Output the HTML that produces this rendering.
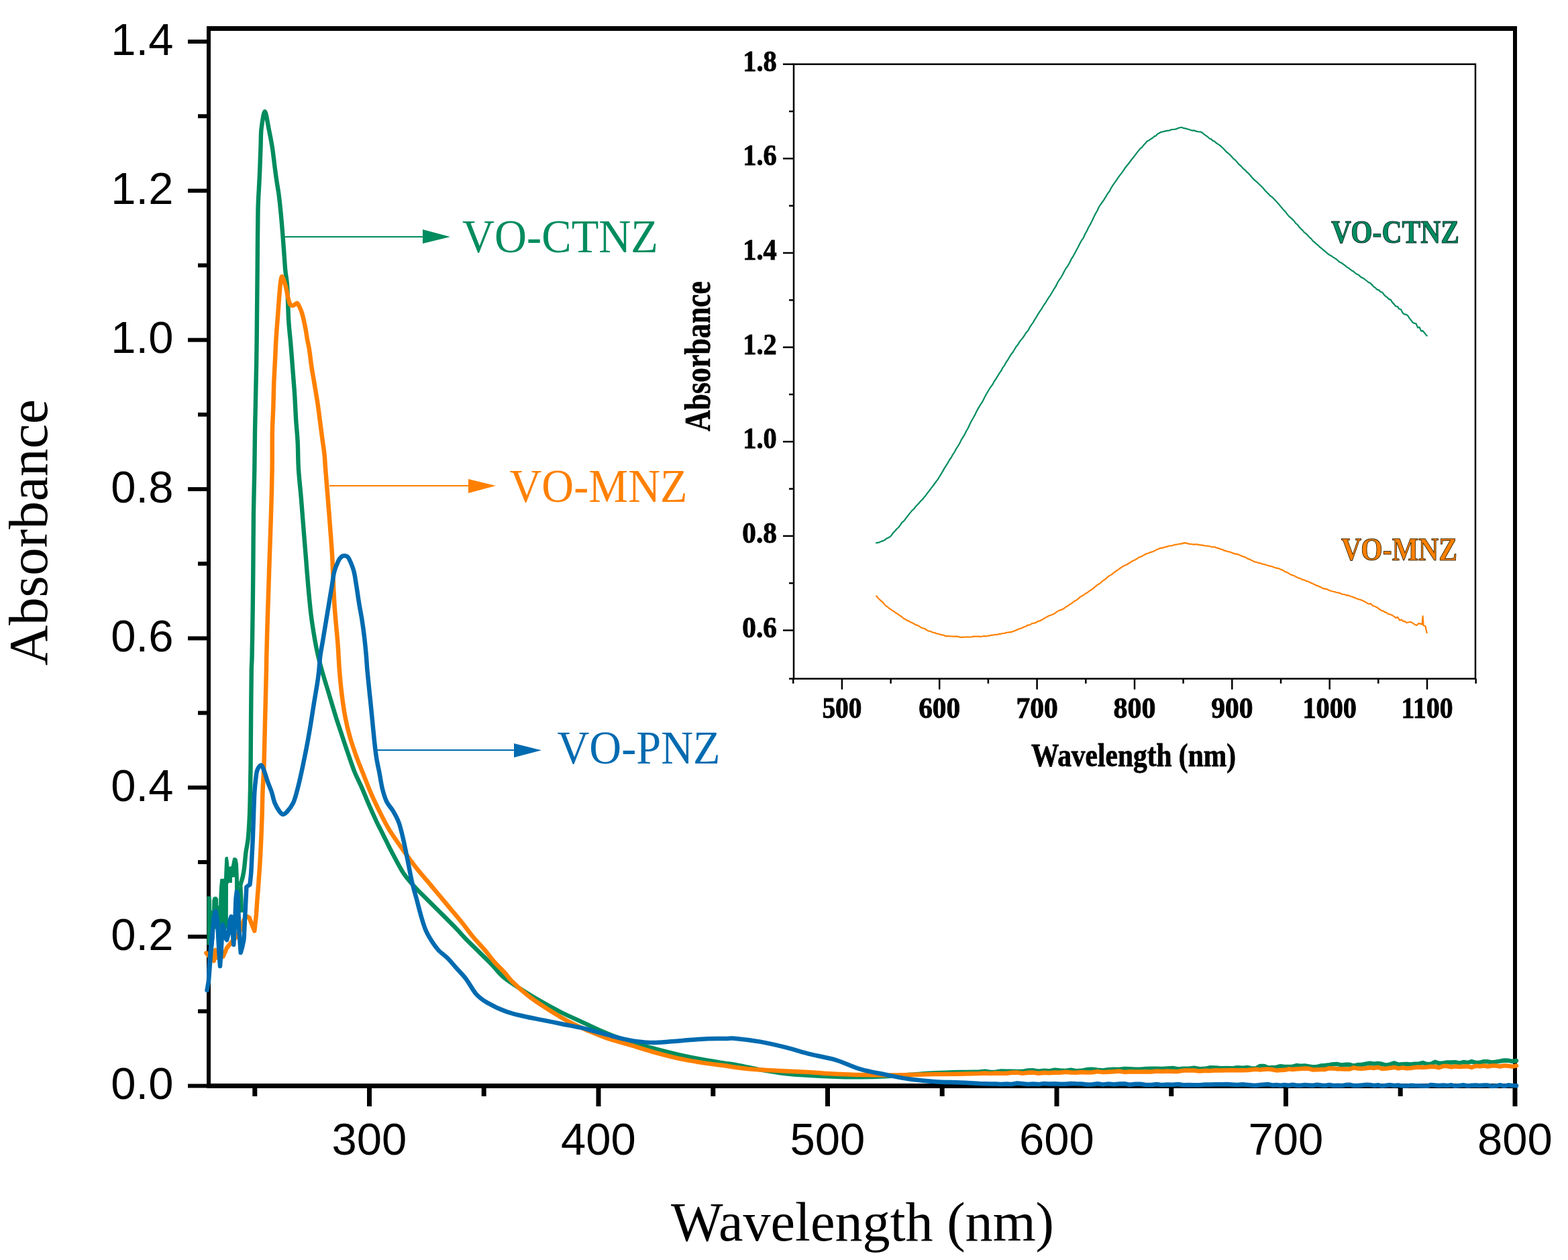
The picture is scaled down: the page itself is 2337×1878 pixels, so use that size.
<!DOCTYPE html>
<html><head><meta charset="utf-8"><title>Absorbance spectra</title>
<style>
html,body{margin:0;padding:0;background:#fff;overflow:hidden;}
svg{display:block;}
.tl{font-family:"Liberation Sans",Arial,sans-serif;font-size:67px;fill:#000;}
.tt{font-family:"Liberation Serif","Times New Roman",serif;font-size:82px;fill:#000;}
.lg{font-family:"Liberation Serif","Times New Roman",serif;font-size:70px;}
.il{font-family:"Liberation Serif","Times New Roman",serif;font-size:44px;font-weight:bold;fill:#000;stroke:#000;stroke-width:0.9px;}
.it{font-family:"Liberation Serif","Times New Roman",serif;font-size:48px;font-weight:bold;fill:#000;stroke:#000;stroke-width:0.8px;}
.ia{font-family:"Liberation Serif","Times New Roman",serif;font-size:54px;font-weight:bold;fill:#000;stroke:#000;stroke-width:0.6px;}
.ilg{font-family:"Liberation Serif","Times New Roman",serif;font-size:48px;font-weight:bold;stroke-width:1px;}
</style></head>
<body>
<svg width="2337" height="1878" viewBox="0 0 2337 1878">
<rect width="2337" height="1878" fill="#fff"/>
<rect x="308" y="39" width="1953" height="7" fill="#000"/>
<rect x="308" y="1615" width="1953" height="7" fill="#000"/>
<rect x="308" y="39" width="6" height="1583" fill="#000"/>
<rect x="2255" y="39" width="6" height="1583" fill="#000"/>
<line x1="280" y1="1618.5" x2="311" y2="1618.5" stroke="#000" stroke-width="6"/>
<line x1="295" y1="1507.3" x2="311" y2="1507.3" stroke="#000" stroke-width="6"/>
<line x1="280" y1="1396.1" x2="311" y2="1396.1" stroke="#000" stroke-width="6"/>
<line x1="295" y1="1285" x2="311" y2="1285" stroke="#000" stroke-width="6"/>
<line x1="280" y1="1173.8" x2="311" y2="1173.8" stroke="#000" stroke-width="6"/>
<line x1="295" y1="1062.6" x2="311" y2="1062.6" stroke="#000" stroke-width="6"/>
<line x1="280" y1="951.4" x2="311" y2="951.4" stroke="#000" stroke-width="6"/>
<line x1="295" y1="840.2" x2="311" y2="840.2" stroke="#000" stroke-width="6"/>
<line x1="280" y1="729.1" x2="311" y2="729.1" stroke="#000" stroke-width="6"/>
<line x1="295" y1="617.9" x2="311" y2="617.9" stroke="#000" stroke-width="6"/>
<line x1="280" y1="506.7" x2="311" y2="506.7" stroke="#000" stroke-width="6"/>
<line x1="295" y1="395.5" x2="311" y2="395.5" stroke="#000" stroke-width="6"/>
<line x1="280" y1="284.3" x2="311" y2="284.3" stroke="#000" stroke-width="6"/>
<line x1="295" y1="173.2" x2="311" y2="173.2" stroke="#000" stroke-width="6"/>
<line x1="280" y1="62" x2="311" y2="62" stroke="#000" stroke-width="6"/>
<line x1="379.8" y1="1620" x2="379.8" y2="1634" stroke="#000" stroke-width="7"/>
<line x1="550.5" y1="1620" x2="550.5" y2="1649" stroke="#000" stroke-width="7"/>
<line x1="721.2" y1="1620" x2="721.2" y2="1634" stroke="#000" stroke-width="7"/>
<line x1="892" y1="1620" x2="892" y2="1649" stroke="#000" stroke-width="7"/>
<line x1="1062.8" y1="1620" x2="1062.8" y2="1634" stroke="#000" stroke-width="7"/>
<line x1="1233.5" y1="1620" x2="1233.5" y2="1649" stroke="#000" stroke-width="7"/>
<line x1="1404.2" y1="1620" x2="1404.2" y2="1634" stroke="#000" stroke-width="7"/>
<line x1="1575" y1="1620" x2="1575" y2="1649" stroke="#000" stroke-width="7"/>
<line x1="1745.8" y1="1620" x2="1745.8" y2="1634" stroke="#000" stroke-width="7"/>
<line x1="1916.5" y1="1620" x2="1916.5" y2="1649" stroke="#000" stroke-width="7"/>
<line x1="2087.2" y1="1620" x2="2087.2" y2="1634" stroke="#000" stroke-width="7"/>
<line x1="2258" y1="1620" x2="2258" y2="1649" stroke="#000" stroke-width="7"/>
<polygon points="308.5,1336 314.6,1336 315,1342 315.3,1357 316.1,1357 316.3,1342 317.5,1338 319.5,1336.5 322.5,1336.5 324.5,1338.5 325.1,1340 325.3,1350 326.1,1350 326.3,1339 327,1323 328.3,1310 334,1309.5 334.3,1300 335.2,1280 336.5,1277 339.5,1277 340.8,1284 341.5,1292 344.8,1291 346.5,1282 347.5,1278.5 350.5,1278 353.5,1280 355,1288 356.3,1320 357.5,1322 359.5,1312 361,1312 362.5,1340 363,1360 350,1360 350,1307.4 346,1307.4 346,1315.7 341,1315.7 340,1318 339.8,1384.5 316.2,1384.5 315.5,1408.5 308.5,1408.5" fill="#008c5e"/>
<path d="M358.5 1318 C359.1 1316 361.1 1310.2 362 1306 C362.9 1301.8 363.5 1298.4 364.2 1292.6 C364.9 1286.8 365.5 1278.1 366.4 1270.9 C367.3 1263.7 368.9 1258.7 369.8 1249.3 C370.7 1239.9 371.5 1226.1 372 1214.6 C372.5 1203 372.6 1192.7 372.9 1180 C373.2 1167.3 373.4 1157 373.6 1138.5 C373.8 1120 373.9 1092.3 374.1 1069.2 C374.3 1046.1 374.6 1015.4 374.8 1000 C375.1 984.6 375.3 992.4 375.6 977 C375.9 961.6 376.4 930.8 376.7 907.7 C377 884.6 377.2 861.6 377.4 838.5 C377.6 815.4 377.6 792.3 377.9 769.2 C378.2 746.1 378.9 721.1 379.3 700 C379.7 678.9 379.5 669.2 380 642.3 C380.5 615.4 381.6 572.2 382.2 538.5 C382.8 504.8 383 466 383.3 440 C383.6 414 383.6 403.4 383.8 382.3 C384 361.2 384.1 331.8 384.5 313.1 C384.9 294.4 386 281 386.5 270 C387 259 387.2 255.5 387.5 247 C387.8 238.5 388.1 228.2 388.5 219 C388.9 209.8 388.6 200.3 389.6 191.5 C390.7 182.7 393 166.3 394.8 166.3 C396.6 166.3 398.7 182.7 400.5 191.5 C402.3 200.3 404.2 209.8 405.7 219 C407.2 228.2 408.2 238.5 409.3 247 C410.4 255.5 411.2 261.9 412.4 270 C413.6 278.1 414.8 282.9 416.3 295.8 C417.8 308.8 419.8 330.3 421.2 347.7 C422.6 365.1 423.9 386.9 425 400 C426.1 413.1 427.2 413 428.1 426 C429 439 429.3 463.5 430.2 477.9 C431.1 492.3 432.2 499.5 433.3 512.5 C434.4 525.5 435.7 542.8 436.7 555.8 C437.7 568.8 438.6 578.9 439.3 590.4 C440 601.9 440.4 613.5 441.1 625 C441.8 636.5 443.1 647.2 443.7 659.7 C444.3 672.2 444.1 686.1 445 700 C445.9 713.9 447.7 728.9 448.9 743.3 C450.1 757.7 451.1 772.2 452.3 786.6 C453.5 801 454.6 815.4 455.8 829.8 C457 844.2 458 858.7 459.3 873.1 C460.6 887.5 462 903.4 463.6 916.4 C465.2 929.4 467.1 940.9 468.8 951 C470.5 961.1 472.1 968.8 474 977 C475.9 985.2 477.3 990.4 480 1000 C482.7 1009.6 486.9 1023.1 490.4 1034.6 C493.9 1046.1 497.6 1059.1 500.8 1069.2 C504 1079.3 506.5 1086.5 509.4 1095.2 C512.3 1103.9 514.9 1112 518.1 1121.2 C521.3 1130.4 525 1141.9 528.5 1150.6 C532 1159.2 535.4 1165.1 538.9 1173.1 C542.4 1181.1 545.9 1190.1 549.6 1198.8 C553.4 1207.5 558.5 1218.7 561.4 1225 C564.3 1231.3 564.7 1231.4 567.3 1236.6 C569.9 1241.8 574.1 1250.4 577 1256.2 C579.9 1262 580.5 1263.5 584.6 1271.2 C588.8 1278.9 596.1 1293.7 601.9 1302.3 C607.7 1310.9 613.4 1316.8 619.2 1323.1 C625 1329.4 630.7 1334.6 636.5 1340.4 C642.3 1346.2 646.7 1350.5 653.9 1357.7 C661.1 1364.9 673 1376.7 679.8 1383.7 C686.6 1390.8 690.3 1395.3 694.8 1400 C699.3 1404.7 700.8 1405.9 707 1412 C713.2 1418.1 725.8 1430.2 731.9 1436.5 C738 1442.8 740.2 1446.2 743.9 1450 C747.6 1453.8 747.9 1454.8 754.2 1459.4 C760.6 1464.1 772.7 1472 782 1477.9 C791.3 1483.8 800.6 1489.3 809.9 1494.6 C819.2 1499.9 828.4 1504.9 837.7 1509.5 C847 1514.1 856.2 1518.1 865.5 1522.4 C874.8 1526.7 884.1 1531.4 893.4 1535.4 C902.7 1539.4 911.9 1543.2 921.2 1546.6 C930.5 1550 939.7 1553 949 1555.8 C958.3 1558.6 966 1560.5 976.8 1563.3 C987.6 1566.1 1001.6 1569.7 1014 1572.5 C1026.4 1575.3 1040.1 1578 1051.1 1580 C1062.1 1582 1072.3 1583.4 1080 1584.6 C1087.7 1585.8 1088.1 1585.5 1097.1 1587.2 C1106.1 1588.9 1121.8 1592.4 1134.2 1594.6 C1146.6 1596.8 1158.9 1598.8 1171.3 1600.2 C1183.7 1601.6 1196 1602.2 1208.4 1603 C1220.8 1603.8 1233.1 1604.4 1245.5 1604.8 C1257.9 1605.2 1270.2 1605.5 1282.6 1605.4 C1295 1605.3 1307.3 1604.9 1319.7 1604.3 C1332.1 1603.7 1344.4 1602.5 1356.8 1601.7 C1369.2 1600.9 1381.5 1599.9 1393.9 1599.3 C1406.3 1598.7 1420.1 1598.3 1431.1 1598 C1442.1 1597.7 1455.2 1597.6 1460 1597.5 L1468 1596.6 L1476 1597.9 L1484 1597.6 L1492 1596.5 L1500 1596.8 L1508 1596.6 L1516 1596.9 L1524 1597 L1532 1595.5 L1540 1595.3 L1548 1596.7 L1556 1595.8 L1564 1596.3 L1572 1594.7 L1580 1595.4 L1588 1595.9 L1596 1594.7 L1604 1596.1 L1612 1595.8 L1620 1594 L1628 1593.8 L1636 1594.7 L1644 1595.4 L1652 1594.1 L1660 1593.7 L1668 1594 L1676 1593 L1684 1593.3 L1692 1593.6 L1700 1593.6 L1708 1592.9 L1716 1592.8 L1724 1592.6 L1732 1593 L1740 1592.5 L1748 1591.9 L1756 1593.4 L1764 1592.7 L1772 1592.7 L1780 1591.7 L1788 1593.2 L1796 1592.8 L1804 1591.2 L1812 1591.4 L1820 1592.1 L1828 1591.9 L1836 1592.3 L1844 1591.1 L1852 1591.8 L1860 1591 L1866.1 1592.5 L1872.1 1592.3 L1878.2 1588.9 L1884.2 1588.9 L1890.3 1591.5 L1896.4 1590.9 L1902.4 1590.6 L1908.5 1589.1 L1914.5 1590 L1920.6 1589.9 L1926.7 1589.6 L1932.7 1588 L1938.8 1588.8 L1944.8 1588.5 L1950.9 1589.5 L1957 1590.4 L1963 1590 L1969.1 1588.4 L1975.2 1587.9 L1981.2 1587.1 L1987.3 1586.1 L1993.3 1586 L1999.4 1587.4 L2005.5 1586.7 L2011.5 1586.8 L2017.6 1588.5 L2023.6 1587 L2029.7 1587 L2035.8 1585.7 L2041.8 1584.7 L2047.9 1585.7 L2053.9 1584.8 L2060 1586 L2066.1 1587.6 L2072.1 1586.3 L2078.2 1584.4 L2084.2 1586.8 L2090.3 1586.3 L2096.4 1585.9 L2102.4 1586.4 L2108.5 1585.7 L2114.5 1585.7 L2120.6 1584 L2126.7 1586.1 L2132.7 1585.8 L2138.8 1582.8 L2144.8 1584.8 L2150.9 1584.5 L2157 1583.4 L2163 1583.5 L2169.1 1583.2 L2175.2 1584.7 L2181.2 1583 L2187.3 1584 L2193.3 1582.1 L2199.4 1583.9 L2205.5 1583.8 L2211.5 1582.1 L2217.6 1582.3 L2223.6 1583.4 L2229.7 1582.6 L2235.8 1581.6 L2241.8 1580.5 L2247.9 1580.7 L2253.9 1581.9 L2260 1581" fill="none" stroke="#008c5e" stroke-width="6.4" stroke-linejoin="round" stroke-linecap="round"/>
<path d="M307.5 1420.5 L312 1426 L318.7 1432 L320 1424 L321.2 1416 L322 1425 L325 1428 L332.5 1425.7 L338 1413 L344.6 1404.7 L353.5 1395 L359 1385 L361.6 1376.4 L363.5 1371 L368 1366 L371.5 1367.7 L375 1377 L379.3 1387.4 L381.9 1363.5 C382.2 1359.6 383 1346.9 383.5 1340 C384 1333.1 384.6 1327 385 1322 C385.4 1317 385.4 1316.2 385.8 1309.9 C386.2 1303.6 387 1294 387.6 1283.9 C388.2 1273.8 388.8 1260.8 389.3 1249.3 C389.8 1237.8 390.2 1226.1 390.6 1214.6 C391 1203 391 1192.7 391.5 1180 C392 1167.3 392.9 1157 393.5 1138.5 C394.1 1120 394.6 1092.3 395.2 1069.2 C395.8 1046.1 396.5 1015.4 396.9 1000 C397.2 984.6 397 989.5 397.3 977 C397.6 964.5 398.2 942.3 398.7 925 C399.2 907.7 399.8 890.4 400.4 873.1 C401 855.8 401.5 838.5 402.1 821.2 C402.7 803.9 403.3 789.4 403.9 769.2 C404.5 749 405.3 721.1 405.6 700 C405.9 678.9 405.6 657.7 405.9 642.3 C406.2 626.9 406.9 619.2 407.3 607.7 C407.7 596.2 407.8 584.6 408.2 573.1 C408.6 561.6 409.3 550 409.9 538.5 C410.5 527 410.9 515.4 411.6 503.9 C412.3 492.3 413.3 480.8 414.2 469.2 C415.1 457.6 415.9 444.1 416.8 434.6 C417.7 425.1 418.3 413.7 419.8 412.3 C421.3 410.9 424.1 421.1 425.6 426 C427.1 430.9 427.7 436.9 428.8 441.5 C429.9 446.1 431 451.2 432.3 453.5 C433.6 455.8 435.2 455.5 436.5 455.5 C437.8 455.5 438.8 454 440 453.5 C441.2 453 442.2 450.9 443.6 452.4 C445 453.9 447.1 458.9 448.5 462.3 C449.9 465.7 450.6 468.1 451.7 472.7 C452.8 477.3 454.4 484.6 455.4 490 C456.4 495.4 456.9 499.8 457.8 505 C458.7 510.2 459.9 514.2 461 521.2 C462.1 528.2 463.1 538.5 464.4 547.1 C465.7 555.8 467.4 564.4 468.8 573.1 C470.2 581.8 471.8 590.5 473.1 599.1 C474.4 607.8 475.5 616.4 476.6 625 C477.8 633.6 478.9 642.3 480 651 C481.1 659.7 482.6 668.8 483.5 677 C484.4 685.2 484.3 689 485.2 700 C486.1 711 487.5 728.9 488.7 743.3 C489.9 757.7 491 772.2 492.1 786.6 C493.2 801 494.4 815.4 495.2 829.8 C496 844.2 496.5 861.3 497 873 C497.5 884.7 497.8 890.5 498.4 900 C499 909.5 499.9 920 500.8 930 C501.7 940 502.6 948.3 503.5 960 C504.4 971.7 505 987.6 506 1000 C507 1012.4 508 1023.1 509.4 1034.6 C510.8 1046.1 512.6 1058.5 514.6 1069.2 C516.6 1079.9 518.7 1088.6 521.6 1098.7 C524.5 1108.8 528.5 1120.3 532 1129.8 C535.5 1139.3 539 1147.6 542.3 1155.8 C545.5 1164 547.8 1170.3 551.5 1179 C555.2 1187.7 560 1198 564.8 1207.7 C569.6 1217.4 574.2 1227 580.4 1237.1 C586.6 1247.2 595.4 1259.4 601.9 1268.5 C608.4 1277.6 613.4 1284.5 619.2 1291.9 C625 1299.3 630.7 1305.8 636.5 1312.7 C642.3 1319.6 648.1 1326.6 653.9 1333.5 C659.7 1340.4 665.4 1347.4 671.2 1354.3 C677 1361.2 682.7 1367.8 688.5 1375 C694.3 1382.2 700.2 1390.6 706 1397.5 C711.8 1404.4 717.9 1410.5 723.1 1416.6 C728.3 1422.7 732.1 1428.4 737 1434 C741.9 1439.6 748.1 1445.2 752.5 1450 C756.9 1454.8 757 1456.9 763.5 1463.1 C770 1469.3 782 1480.1 791.3 1487.2 C800.6 1494.3 809.8 1499.9 819.1 1505.8 C828.4 1511.7 837.7 1517.5 847 1522.4 C856.3 1527.3 865.5 1531.4 874.8 1535.4 C884.1 1539.4 891.8 1542.9 902.6 1546.6 C913.4 1550.3 927.3 1554 939.7 1557.7 C952.1 1561.4 964.4 1565.4 976.8 1568.8 C989.2 1572.2 1001.6 1575.5 1014 1578.1 C1026.4 1580.7 1040.1 1582.9 1051.1 1584.6 C1062.1 1586.3 1072.3 1587.2 1080 1588.3 C1087.7 1589.3 1088.1 1589.9 1097.1 1590.9 C1106.1 1592 1121.8 1593.7 1134.2 1594.6 C1146.6 1595.5 1158.9 1595.9 1171.3 1596.5 C1183.7 1597.1 1196 1597.6 1208.4 1598.3 C1220.8 1599 1233.1 1600.1 1245.5 1600.7 C1257.9 1601.3 1270.2 1601.7 1282.6 1602 C1295 1602.3 1307.3 1602.6 1319.7 1602.6 C1332.1 1602.6 1344.4 1602.2 1356.8 1602 C1369.2 1601.8 1381.5 1601.3 1393.9 1601.1 C1406.3 1600.9 1420.1 1600.9 1431.1 1600.7 C1442.1 1600.5 1455.2 1600.1 1460 1600 L1468 1599.5 L1476 1599.9 L1484 1599.5 L1492 1599.8 L1500 1599.7 L1508 1598.7 L1516 1598.5 L1524 1599.7 L1532 1598.7 L1540 1598.6 L1548 1599.7 L1556 1598.8 L1564 1599.2 L1572 1598.6 L1580 1598.7 L1588 1597.8 L1596 1598.5 L1604 1598.8 L1612 1598.1 L1620 1598.4 L1628 1598.2 L1636 1597.1 L1644 1598.1 L1652 1597.7 L1660 1597.2 L1668 1596.6 L1676 1597.9 L1684 1597.2 L1692 1597.5 L1700 1597.6 L1708 1597.2 L1716 1597.5 L1724 1596.5 L1732 1597.1 L1740 1596.4 L1748 1597.1 L1756 1596.9 L1764 1595.6 L1772 1595.5 L1780 1595.5 L1788 1596.6 L1796 1595.7 L1804 1595.9 L1812 1595.3 L1820 1595.5 L1828 1595.2 L1836 1595.1 L1844 1595.3 L1852 1595.2 L1860 1595 L1866.1 1594.2 L1872.1 1593.8 L1878.2 1594.4 L1884.2 1593.7 L1890.3 1593.4 L1896.4 1594.2 L1902.4 1595.4 L1908.5 1595 L1914.5 1594.8 L1920.6 1593.3 L1926.7 1594 L1932.7 1593.2 L1938.8 1592.9 L1944.8 1592.6 L1950.9 1592.8 L1957 1594.5 L1963 1594.2 L1969.1 1594 L1975.2 1593.9 L1981.2 1592.2 L1987.3 1592.4 L1993.3 1593.2 L1999.4 1593.3 L2005.5 1593.6 L2011.5 1593.5 L2017.6 1591.4 L2023.6 1592.6 L2029.7 1592.7 L2035.8 1592.2 L2041.8 1591.2 L2047.9 1591.9 L2053.9 1590.8 L2060 1592.9 L2066.1 1592.6 L2072.1 1591.7 L2078.2 1590.9 L2084.2 1592.4 L2090.3 1591.4 L2096.4 1592.2 L2102.4 1592 L2108.5 1591 L2114.5 1590.6 L2120.6 1591 L2126.7 1590.5 L2132.7 1589.7 L2138.8 1590 L2144.8 1591.2 L2150.9 1589.1 L2157 1589 L2163 1590.4 L2169.1 1589.4 L2175.2 1590 L2181.2 1589.7 L2187.3 1589.3 L2193.3 1590.9 L2199.4 1588.7 L2205.5 1589.2 L2211.5 1588.5 L2217.6 1589.5 L2223.6 1588.5 L2229.7 1588.6 L2235.8 1589.5 L2241.8 1588.3 L2247.9 1588.8 L2253.9 1589.6 L2260 1588.5" fill="none" stroke="#ff8000" stroke-width="6.5" stroke-linejoin="round" stroke-linecap="round"/>
<polygon points="307.5,1477 310.5,1477 313.8,1445 317,1420 319.6,1398 319.6,1372 321,1357 318,1362 314.5,1380 312.5,1395 310.2,1420 308.2,1445" fill="#006bb0"/>
<path d="M308.5 1476 L311 1462 L313.5 1430 L316.5 1395 L318.5 1368 L321.2 1358 L324 1372 L326.5 1420 L328 1440 L329.5 1420 L331.7 1378 L334 1385 L336 1398 L338.1 1401 L340.5 1392 L342.5 1372 L344.6 1366 L346.5 1385 L348.2 1408 L350 1380 L351.5 1340 L352.8 1329 L354.5 1335 L356.5 1390 L358.8 1420 L361 1412 L363.5 1400 L365 1370 L366.5 1340 L367.4 1322 L370 1320 L372.4 1318.5 C372.7 1315.6 373.7 1308.4 374.2 1301.2 C374.7 1294 375.1 1283.9 375.5 1275.2 C375.9 1266.5 376.4 1259.4 376.8 1249.3 C377.2 1239.2 377.6 1226.1 378 1214.6 C378.4 1203 378.8 1189.2 379.4 1180 C380 1170.8 380.8 1164.5 381.4 1159.3 C382 1154.1 382.3 1151.6 383.1 1148.9 C383.9 1146.2 384.9 1144.3 386 1143 C387.1 1141.7 388.6 1139.8 390 1141.1 C391.4 1142.4 392.9 1146.7 394.3 1150.6 C395.8 1154.5 397 1159.5 398.7 1164.4 C400.4 1169.3 402.9 1174.7 404.7 1180 C406.5 1185.3 407.5 1191.7 409.4 1196.5 C411.3 1201.3 414.2 1206.1 416.3 1209 C418.4 1211.9 419.8 1213.7 421.8 1213.8 C423.8 1213.9 425.6 1212.2 428.1 1209.5 C430.6 1206.8 434.4 1201.9 436.7 1197.3 C439 1192.7 440.2 1187.8 441.9 1181.8 C443.6 1175.8 445.4 1168.5 447.1 1161 C448.8 1153.5 450.6 1145.2 452.3 1136.8 C454 1128.4 455.8 1120 457.5 1110.8 C459.2 1101.6 461 1091.8 462.7 1081.4 C464.4 1071 466.2 1059.2 467.9 1048.5 C469.6 1037.8 471.9 1025.4 473.1 1017.3 C474.3 1009.2 474.6 1006.7 475.3 1000 C476 993.3 476.3 985.2 477.4 977 C478.5 968.8 480.4 959.7 481.8 951 C483.2 942.3 484.7 933.6 486.1 925 C487.5 916.4 489 907.8 490.4 899.1 C491.8 890.5 493.4 880.9 494.7 873.1 C496 865.3 496.6 858.4 498.2 852.3 C499.8 846.1 502.5 840 504.3 836.2 C506.1 832.5 507.5 831.1 509 829.8 C510.5 828.5 512 828.2 513.5 828.2 C515 828.2 516.6 828.4 518 829.8 C519.4 831.2 520.4 833 522 836.7 C523.6 840.5 526.1 846.2 527.6 852.3 C529.1 858.4 529.9 865.1 531.2 873.1 C532.5 881.1 533.9 891.4 535.3 900 C536.7 908.6 538.4 916.5 539.7 925 C541 933.5 542.2 942.3 543.2 951 C544.2 959.7 545.1 968.8 545.8 977 C546.5 985.2 546.6 990.4 547.5 1000 C548.4 1009.6 549.8 1023.1 551 1034.6 C552.2 1046.1 553.4 1057.7 554.5 1069.2 C555.6 1080.8 556.8 1093.5 557.9 1103.9 C559 1114.3 560.1 1123.6 561.4 1131.6 C562.7 1139.6 564.1 1144.6 565.5 1152 C566.9 1159.4 568.2 1168.8 570 1176 C571.8 1183.2 573.8 1189.8 576.5 1195.3 C579.2 1200.8 583 1203.8 586 1209 C589 1214.2 592.1 1219.5 594.6 1226.5 C597.1 1233.5 598.9 1241.8 601 1250.7 C603.1 1259.6 604.9 1269.2 607.1 1279.8 C609.3 1290.4 611.7 1304.3 614 1314.4 C616.3 1324.5 618.7 1331.7 621 1340.4 C623.3 1349.1 625.6 1358.6 627.9 1366.4 C630.2 1374.2 632.2 1381 634.8 1387.1 C637.4 1393.1 640.3 1397.8 643.5 1402.7 C646.7 1407.6 649.9 1412.3 653.9 1416.6 C657.9 1420.9 663.4 1424.3 667.7 1428.7 C672.1 1433.1 675.5 1437.6 680 1442.7 C684.5 1447.8 689.8 1452.9 694.8 1459.4 C699.8 1465.9 704.4 1475.7 709.7 1481.6 C715 1487.5 719 1490.3 726.4 1494.6 C733.8 1498.9 744.9 1504.2 754.2 1507.6 C763.5 1511 772.7 1512.8 782 1515 C791.3 1517.2 800.6 1518.7 809.9 1520.6 C819.2 1522.5 828.4 1524.3 837.7 1526.2 C847 1528.1 856.2 1529.6 865.5 1531.7 C874.8 1533.8 884.1 1536.6 893.4 1539.1 C902.7 1541.6 911.9 1544.4 921.2 1546.6 C930.5 1548.8 939.7 1550.9 949 1552.1 C958.3 1553.3 966 1554.2 976.8 1554 C987.6 1553.8 1001.6 1552.1 1014 1551.2 C1026.4 1550.3 1040.1 1548.9 1051.1 1548.4 C1062.1 1547.9 1072.3 1548.2 1080 1548.1 C1087.7 1548 1088.1 1547.1 1097.1 1547.9 C1106.1 1548.7 1121.8 1550.7 1134.2 1552.9 C1146.6 1555.1 1158.9 1558.1 1171.3 1561.2 C1183.7 1564.3 1196 1568.3 1208.4 1571.4 C1220.8 1574.5 1233.1 1576.1 1245.5 1579.8 C1257.9 1583.5 1270.2 1590 1282.6 1593.7 C1295 1597.4 1307.3 1599.2 1319.7 1601.7 C1332.1 1604.2 1344.4 1606.8 1356.8 1608.5 C1369.2 1610.2 1381.5 1611.4 1393.9 1612.2 C1406.3 1613 1420.1 1613 1431.1 1613.5 C1442.1 1614 1455.2 1614.8 1460 1615 L1468 1615.2 L1476 1615.5 L1484 1615.6 L1492 1615.9 L1500 1615.6 L1508 1615.9 L1516 1614.5 L1524 1615.3 L1532 1616.1 L1540 1615.6 L1548 1616.1 L1556 1614.9 L1564 1615.5 L1572 1615.2 L1580 1615.7 L1588 1615.8 L1596 1614.9 L1604 1615.3 L1612 1615.4 L1620 1616.5 L1628 1616.3 L1636 1615.3 L1644 1616.4 L1652 1615.4 L1660 1616.2 L1668 1615.4 L1676 1615.3 L1684 1616.7 L1692 1615.7 L1700 1615.7 L1708 1617 L1716 1616.9 L1724 1616 L1732 1617.1 L1740 1616.5 L1748 1616.7 L1756 1616 L1764 1617.2 L1772 1616.9 L1780 1617.3 L1788 1617.3 L1796 1616.4 L1804 1616.5 L1812 1616.2 L1820 1616.2 L1828 1616.1 L1836 1616.6 L1844 1617.1 L1852 1616.2 L1860 1617 L1866.1 1617.6 L1872.1 1617.7 L1878.2 1617 L1884.2 1616.6 L1890.3 1616.1 L1896.4 1617.4 L1902.4 1617.1 L1908.5 1617.7 L1914.5 1616.9 L1920.6 1617.7 L1926.7 1616.8 L1932.7 1617.8 L1938.8 1617.7 L1944.8 1617.1 L1950.9 1617.4 L1957 1617.7 L1963 1616.7 L1969.1 1617.5 L1975.2 1618 L1981.2 1616.9 L1987.3 1618 L1993.3 1617.8 L1999.4 1618.1 L2005.5 1617.1 L2011.5 1616.7 L2017.6 1618.1 L2023.6 1618.1 L2029.7 1617.4 L2035.8 1616.8 L2041.8 1617 L2047.9 1617.9 L2053.9 1617.2 L2060 1618.6 L2066.1 1617.8 L2072.1 1617.1 L2078.2 1618 L2084.2 1617.4 L2090.3 1618.6 L2096.4 1618.6 L2102.4 1617.8 L2108.5 1618.1 L2114.5 1618.2 L2120.6 1618.5 L2126.7 1618.8 L2132.7 1616.9 L2138.8 1617.6 L2144.8 1618.1 L2150.9 1617.6 L2157 1618.1 L2163 1617.2 L2169.1 1618.8 L2175.2 1618.1 L2181.2 1617.3 L2187.3 1618.4 L2193.3 1617.7 L2199.4 1617.5 L2205.5 1618.1 L2211.5 1617.4 L2217.6 1617.6 L2223.6 1618.9 L2229.7 1618.6 L2235.8 1617.2 L2241.8 1618.8 L2247.9 1617.3 L2253.9 1617.9 L2260 1618.3" fill="none" stroke="#006bb0" stroke-width="6.5" stroke-linejoin="round" stroke-linecap="round"/>
<text x="258.5" y="1638.2" text-anchor="end" class="tl">0.0</text>
<text x="258.5" y="1415.8" text-anchor="end" class="tl">0.2</text>
<text x="258.5" y="1193.5" text-anchor="end" class="tl">0.4</text>
<text x="258.5" y="971.1" text-anchor="end" class="tl">0.6</text>
<text x="258.5" y="748.8" text-anchor="end" class="tl">0.8</text>
<text x="258.5" y="526.4" text-anchor="end" class="tl">1.0</text>
<text x="258.5" y="304" text-anchor="end" class="tl">1.2</text>
<text x="258.5" y="81.7" text-anchor="end" class="tl">1.4</text>
<text x="550.5" y="1721.3" text-anchor="middle" class="tl">300</text>
<text x="892" y="1721.3" text-anchor="middle" class="tl">400</text>
<text x="1233.5" y="1721.3" text-anchor="middle" class="tl">500</text>
<text x="1575" y="1721.3" text-anchor="middle" class="tl">600</text>
<text x="1916.5" y="1721.3" text-anchor="middle" class="tl">700</text>
<text x="2258" y="1721.3" text-anchor="middle" class="tl">800</text>

<rect x="423" y="352" width="208" height="2" fill="#008c5e"/>
<polygon points="630,342 671,353 630,363" fill="#008c5e"/>
<rect x="491" y="723" width="208" height="2" fill="#ff8000"/>
<polygon points="698,714 739,724 698,735" fill="#ff8000"/>
<rect x="562" y="1117" width="205" height="2" fill="#006bb0"/>
<polygon points="766,1108 807,1118.2 766,1129" fill="#006bb0"/>


<text x="689" y="376" class="lg" fill="#008c5e" textLength="292" lengthAdjust="spacingAndGlyphs">VO-CTNZ</text>
<text x="759.5" y="748.2" class="lg" fill="#ff8000" textLength="265" lengthAdjust="spacingAndGlyphs">VO-MNZ</text>
<text x="830.5" y="1137.6" class="lg" fill="#006bb0" textLength="243" lengthAdjust="spacingAndGlyphs">VO-PNZ</text>
<text x="1000" y="1849" class="tt" textLength="571" lengthAdjust="spacingAndGlyphs">Wavelength (nm)</text>
<text transform="translate(69.8,992) rotate(-90)" x="0" y="0" class="tt" textLength="397" lengthAdjust="spacingAndGlyphs">Absorbance</text>
<text x="1537" y="1142.3" class="it" textLength="305" lengthAdjust="spacingAndGlyphs">Wavelength (nm)</text>
<text transform="translate(1058,643) rotate(-90)" x="0" y="0" class="ia" textLength="224" lengthAdjust="spacingAndGlyphs">Absorbance</text>
<text x="1984" y="361.8" class="ilg" fill="#008c5e" stroke="#0a2a2a" textLength="191" lengthAdjust="spacingAndGlyphs">VO-CTNZ</text>
<text x="1999" y="835.1" class="ilg" fill="#ff8000" stroke="#3a2a00" textLength="173" lengthAdjust="spacingAndGlyphs">VO-MNZ</text>

<rect x="1183" y="95.7" width="1016" height="915.9" fill="none" stroke="#000" stroke-width="2.5"/>
<line x1="1176" y1="1011.6" x2="1183" y2="1011.6" stroke="#000" stroke-width="2.5"/>
<line x1="1167" y1="939.5" x2="1183" y2="939.5" stroke="#000" stroke-width="2.5"/>
<line x1="1176" y1="869.2" x2="1183" y2="869.2" stroke="#000" stroke-width="2.5"/>
<line x1="1167" y1="798.9" x2="1183" y2="798.9" stroke="#000" stroke-width="2.5"/>
<line x1="1176" y1="728.6" x2="1183" y2="728.6" stroke="#000" stroke-width="2.5"/>
<line x1="1167" y1="658.3" x2="1183" y2="658.3" stroke="#000" stroke-width="2.5"/>
<line x1="1176" y1="587.9" x2="1183" y2="587.9" stroke="#000" stroke-width="2.5"/>
<line x1="1167" y1="517.6" x2="1183" y2="517.6" stroke="#000" stroke-width="2.5"/>
<line x1="1176" y1="447.3" x2="1183" y2="447.3" stroke="#000" stroke-width="2.5"/>
<line x1="1167" y1="377" x2="1183" y2="377" stroke="#000" stroke-width="2.5"/>
<line x1="1176" y1="306.7" x2="1183" y2="306.7" stroke="#000" stroke-width="2.5"/>
<line x1="1167" y1="236.3" x2="1183" y2="236.3" stroke="#000" stroke-width="2.5"/>
<line x1="1176" y1="166" x2="1183" y2="166" stroke="#000" stroke-width="2.5"/>
<line x1="1167" y1="95.7" x2="1183" y2="95.7" stroke="#000" stroke-width="2.5"/>
<line x1="1182.2" y1="1011.5" x2="1182.2" y2="1018.8" stroke="#000" stroke-width="2.5"/>
<line x1="1254.9" y1="1011.5" x2="1254.9" y2="1027.6" stroke="#000" stroke-width="2.5"/>
<line x1="1327.6" y1="1011.5" x2="1327.6" y2="1018.8" stroke="#000" stroke-width="2.5"/>
<line x1="1400.2" y1="1011.5" x2="1400.2" y2="1027.6" stroke="#000" stroke-width="2.5"/>
<line x1="1472.9" y1="1011.5" x2="1472.9" y2="1018.8" stroke="#000" stroke-width="2.5"/>
<line x1="1545.6" y1="1011.5" x2="1545.6" y2="1027.6" stroke="#000" stroke-width="2.5"/>
<line x1="1618.3" y1="1011.5" x2="1618.3" y2="1018.8" stroke="#000" stroke-width="2.5"/>
<line x1="1691" y1="1011.5" x2="1691" y2="1027.6" stroke="#000" stroke-width="2.5"/>
<line x1="1763.6" y1="1011.5" x2="1763.6" y2="1018.8" stroke="#000" stroke-width="2.5"/>
<line x1="1836.3" y1="1011.5" x2="1836.3" y2="1027.6" stroke="#000" stroke-width="2.5"/>
<line x1="1909" y1="1011.5" x2="1909" y2="1018.8" stroke="#000" stroke-width="2.5"/>
<line x1="1981.7" y1="1011.5" x2="1981.7" y2="1027.6" stroke="#000" stroke-width="2.5"/>
<line x1="2054.3" y1="1011.5" x2="2054.3" y2="1018.8" stroke="#000" stroke-width="2.5"/>
<line x1="2127" y1="1011.5" x2="2127" y2="1027.6" stroke="#000" stroke-width="2.5"/>
<line x1="2199.7" y1="1011.5" x2="2199.7" y2="1018.8" stroke="#000" stroke-width="2.5"/>
<path d="M1305.1 809.5 L1307.9 808.8 L1310.7 808.4 L1313.5 806.9 L1316.3 806.1 L1318.8 804.7 L1321.3 802.7 L1323.8 801.6 L1326.3 800.3 L1328.8 797.7 L1331.3 794.1 L1333.9 791.5 L1336.4 788.5 L1339 786.2 L1341.6 782.9 L1344.2 778.9 L1346.8 776.9 L1349.4 773.7 L1352 770.2 L1354.6 766.9 L1357.1 763.6 L1359.6 760.6 L1362.2 758.5 L1364.7 755.1 L1367.2 752.5 L1369.8 749.8 L1372.3 746.7 L1374.8 744.5 L1377.3 741.2 L1379.8 738.4 L1382.4 734.7 L1384.9 731.6 L1387.4 728.1 L1390 725 L1392.5 721.5 L1395 718 L1397.5 714.9 L1400 710.8 L1402.6 706.6 L1405.1 702.4 L1407.6 697.9 L1410.2 693.8 L1412.7 689.8 L1415.2 685.5 L1417.7 682 L1420.2 677.3 L1422.8 673.5 L1425.3 668.7 L1427.8 665 L1430.4 660.6 L1432.9 655.3 L1435.4 651.3 L1437.9 647.3 L1440.5 642 L1443 637.8 L1445.5 632.3 L1448 627.2 L1450.5 623 L1453.1 618.4 L1455.6 613 L1458.3 608.1 L1461 603.7 L1463.7 599.7 L1466.3 594.7 L1469 589.3 L1471.7 584.7 L1474.2 580.5 L1476.8 576.4 L1479.3 573.2 L1481.8 568.5 L1484.3 564.9 L1486.9 560.7 L1489.4 556.4 L1491.9 553 L1494.4 548.2 L1497 544.8 L1499.5 540.1 L1502 536.5 L1504.5 532.2 L1507 528.2 L1509.6 525 L1512.1 520.8 L1514.6 516.6 L1517.1 513.8 L1519.7 509.4 L1522.2 506.1 L1524.7 503.1 L1527.2 499.3 L1529.8 495.2 L1532.3 492.7 L1534.9 487.7 L1537.4 483.8 L1540 480.4 L1542.5 475.8 L1545.1 471.8 L1547.7 467.4 L1550.3 463.3 L1552.8 459.8 L1555.4 455.3 L1558 451.7 L1560.6 447.3 L1563.1 443.3 L1565.7 439.8 L1568.3 435.2 L1570.9 430.9 L1573.5 426.9 L1576 421.7 L1578.6 417.3 L1581.2 413.8 L1583.8 409.3 L1586.3 404.3 L1588.9 399.8 L1591.5 396.1 L1594.1 391.7 L1596.7 386.2 L1599.2 382.4 L1601.8 377.7 L1604.4 372.8 L1607 367.9 L1609.5 362.9 L1612.1 358.2 L1614.7 354.7 L1617.3 348.8 L1619.9 344.3 L1622.4 338.8 L1625 334.4 L1627.6 329.2 L1630.2 323.8 L1632.7 318.6 L1635.3 314.3 L1637.9 308.5 L1640.5 304.7 L1643.1 301 L1645.6 297.4 L1648.2 293.1 L1650.8 288.7 L1653.4 285.4 L1655.9 280.6 L1658.5 276.3 L1661.1 272.6 L1663.7 269.2 L1666.2 265.2 L1668.8 261.7 L1671.4 258.3 L1673.9 254.9 L1676.5 250.8 L1679.1 247.5 L1681.6 244.5 L1684.2 241 L1686.8 237.5 L1689.4 234.5 L1691.9 231.2 L1694.5 227.6 L1697.1 224.4 L1699.7 221.3 L1702.2 219.3 L1704.8 215.9 L1707.4 213.2 L1710 210.2 L1712.6 209.2 L1715.1 207.2 L1717.7 205.7 L1720.3 203.4 L1722.9 202.4 L1725.4 199.5 L1728 198.3 L1730.6 196.7 L1733.2 196.4 L1735.8 195.6 L1738.3 195.1 L1740.9 194.7 L1743.5 194.3 L1746.1 193.1 L1748.6 193 L1751.2 192.7 L1753.8 192.1 L1757.3 190.5 L1760.8 189.8 L1763.5 190.8 L1766.2 191.3 L1768.9 192.1 L1771.6 192.7 L1774.3 193.8 L1777 194.6 L1779.6 194.4 L1782.2 195.4 L1784.8 196.2 L1787.4 196.5 L1790 196.7 L1792.5 198.2 L1795.1 200.6 L1797.7 202.4 L1800.2 204.2 L1802.7 206.5 L1805.2 207.4 L1807.8 209.9 L1810.3 210.8 L1812.8 213.3 L1815.4 214.9 L1817.9 216.4 L1820.4 218.7 L1822.9 221 L1825.5 223.7 L1828 226.5 L1830.5 228.3 L1833 230.5 L1835.5 233.3 L1838.1 236.3 L1840.6 238.2 L1843.1 240.7 L1845.6 244.1 L1848.2 246.4 L1850.7 248.6 L1853.2 251.7 L1855.8 253.5 L1858.3 256.5 L1860.8 258.4 L1863.3 261.2 L1865.8 264.2 L1868.4 266.9 L1870.9 269.4 L1873.4 271.3 L1876 274 L1878.5 276.3 L1881 278.6 L1883.5 281.5 L1886 284.5 L1888.5 287 L1891 289.4 L1893.6 292.2 L1896.1 293.9 L1898.6 296.3 L1901.1 299.1 L1903.6 301.8 L1906.1 304.6 L1908.7 307.6 L1911.2 310.8 L1913.7 313.4 L1916.2 316.1 L1918.8 319.6 L1921.3 322.6 L1923.8 324.6 L1926.3 326.9 L1928.9 329.5 L1931.4 333.2 L1933.9 334.9 L1936.5 338.5 L1939 341 L1941.5 343.4 L1944 346.5 L1946.5 348.1 L1949.1 350.7 L1951.6 353.6 L1954.1 355.7 L1956.7 359.1 L1959.2 361 L1961.7 363.4 L1964.2 365.3 L1966.8 368 L1969.3 369.8 L1971.8 372.1 L1974.3 374.1 L1976.9 376.3 L1979.4 378.5 L1981.9 380.2 L1984.4 381.4 L1987 383.5 L1989.5 384.9 L1992 386.5 L1994.5 388.8 L1997 390.8 L1999.6 392 L2002.1 393.8 L2004.6 395.7 L2007.1 397.9 L2009.7 399.4 L2012.2 401.3 L2014.7 403.2 L2017.2 404.5 L2019.8 406.8 L2022.3 408.7 L2024.8 409.5 L2027.3 412.3 L2029.9 413.8 L2032.4 414.9 L2034.9 417 L2037.5 419 L2040 421.1 L2042.5 422.1 L2045 424.6 L2047.5 427.4 L2050.1 429.2 L2052.6 431.6 L2055.1 432.4 L2057.6 434.9 L2060.2 435.7 L2062.7 439.1 L2065.2 441.6 L2067.7 443.4 L2070.2 445.9 L2072.8 446.9 L2075.3 450.9 L2077.8 453.4 L2080.3 456.5 L2082.8 456.9 L2085.3 460.5 L2087.9 461 L2090.4 466.1 L2092.9 468.4 L2095.4 468.7 L2097.9 470 L2100.5 474.1 L2103 477.1 L2105.5 480.6 L2108.1 481.9 L2110.6 482.4 L2113.1 488.4 L2115.6 487.6 L2118.1 493.4 L2120.7 493.1 L2123.2 496.4 L2127.3 501.1" fill="none" stroke="#008c5e" stroke-width="2.2" stroke-linejoin="round"/>
<path d="M1305.6 887.7 L1308.5 890.9 L1311.3 893.9 L1314.2 896.3 L1317 899.2 L1319.9 902.6 L1322.4 904.2 L1324.9 906.5 L1327.4 908.1 L1329.9 909.8 L1332.7 911.7 L1335.6 913.8 L1338.4 915.3 L1341.3 917.6 L1344.1 919.3 L1347 922 L1349.8 923.2 L1352.3 925.2 L1354.8 925.7 L1357.3 927.5 L1359.8 928.4 L1362.3 929.8 L1364.8 931.4 L1367.3 931.9 L1369.8 933.2 L1372.6 935.3 L1375.5 936.2 L1378.3 937 L1381.2 939.2 L1384 940.5 L1386.9 940.9 L1389.7 942.5 L1392.2 942.9 L1394.7 943.8 L1397.2 944.7 L1399.7 945 L1402.2 946.2 L1404.7 946.2 L1407.2 947 L1409.7 948.3 L1412.4 948 L1415.1 948.2 L1417.9 948.5 L1420.6 948.6 L1423.3 948.6 L1426 948.4 L1428.7 949.2 L1431.4 949.6 L1434.2 949.8 L1436.9 949.6 L1439.6 949.5 L1442.3 949.3 L1445 949.5 L1447.8 949.4 L1450.5 948.7 L1453.2 948.7 L1455.9 948.7 L1458.6 948.7 L1461.3 948.9 L1464.1 948.5 L1466.8 947.9 L1469.5 948.5 L1472.3 947.7 L1475.2 947.4 L1478 946.6 L1480.9 946.4 L1483.7 945.9 L1486.6 945.9 L1489.4 944.8 L1491.9 944.8 L1494.4 944 L1496.9 944 L1499.4 942.9 L1501.9 942.7 L1504.4 942.3 L1506.9 942.2 L1509.4 941.2 L1512.2 940.3 L1515.1 938.9 L1517.9 937.7 L1520.8 936.7 L1523.6 935.9 L1526.5 934.2 L1529.3 933.5 L1531.8 931.7 L1534.3 931.6 L1536.8 930.1 L1539.3 929 L1541.8 928.6 L1544.3 927.9 L1546.8 926 L1549.3 925.4 L1552.1 924.4 L1555 922.5 L1557.8 920.9 L1560.7 919.2 L1563.5 917.7 L1566.4 916.8 L1569.2 915.7 L1571.7 914.4 L1574.2 912.6 L1576.7 910.8 L1579.2 909.8 L1581.7 908.9 L1584.2 907.7 L1586.7 906.2 L1589.2 904.4 L1592 902.7 L1594.9 900.7 L1597.7 898.8 L1600.6 896.5 L1603.4 895.1 L1606.3 893.1 L1609.1 890.4 L1611.9 888.6 L1614.8 887.2 L1617.6 884.7 L1620.5 883.4 L1623.3 881.1 L1626.2 879.3 L1629 877.4 L1631.5 875 L1634 873.1 L1636.5 871.2 L1639 869.7 L1641.5 867.8 L1644 865.3 L1646.5 864.1 L1649 861.7 L1651.8 859.4 L1654.7 857.4 L1657.5 855.9 L1660.4 853.3 L1663.2 851.2 L1666.1 849.4 L1668.9 847.3 L1671.4 845.7 L1673.9 844 L1676.4 842.8 L1678.9 841.8 L1681.4 840.3 L1683.9 838.7 L1686.4 837.1 L1688.9 835.8 L1691.7 834.6 L1694.6 832.8 L1697.4 830.7 L1700.3 829.8 L1703.1 828.4 L1706 826.8 L1708.8 825.3 L1711.6 824.5 L1714.4 823.2 L1717.2 822.6 L1720 821.4 L1723.3 819.6 L1726.6 818.3 L1729.9 816.7 L1732.4 816.8 L1734.9 815.9 L1737.4 815.2 L1739.9 814.7 L1742.4 813.6 L1744.9 813.5 L1747.4 813.1 L1749.9 812.2 L1752.6 811.6 L1755.2 811.3 L1757.8 810.7 L1760.5 810.6 L1763.2 809.6 L1765.8 809.1 L1768.5 809.6 L1771.1 810.4 L1773.8 810.8 L1776.5 811 L1779.1 811.6 L1781.8 811.4 L1784.5 811.4 L1787.1 812.2 L1789.8 812.4 L1792.6 812.6 L1795.5 813.5 L1798.3 813.6 L1801.2 814 L1804 814.5 L1806.9 815.5 L1809.7 815 L1812.2 816.2 L1814.7 816.9 L1817.2 817.6 L1819.7 818.6 L1822.2 819.2 L1824.7 820.7 L1827.2 821.1 L1829.7 822.1 L1832.5 822.4 L1835.4 823.6 L1838.2 824.6 L1841.1 825.7 L1843.9 825.9 L1846.8 827 L1849.6 828.3 L1852.1 829.4 L1854.6 829.9 L1857.1 831.3 L1859.6 832.7 L1862.1 833.4 L1864.6 834.8 L1867.1 835.9 L1869.6 837.4 L1872.4 837.8 L1875.3 838.8 L1878.1 839.3 L1881 840.6 L1883.8 841 L1886.7 842 L1889.5 842.8 L1892.3 843.6 L1895.2 844.2 L1898 845.2 L1900.9 846.3 L1903.7 846.9 L1906.6 847.5 L1909.4 849.1 L1911.9 849.8 L1914.4 851.7 L1916.9 852.6 L1919.4 853.7 L1921.9 855.4 L1924.4 856.7 L1926.9 857.4 L1929.4 858.4 L1932.2 860.1 L1935.1 861.4 L1937.9 862.3 L1940.8 863.7 L1943.6 864.4 L1946.5 865.8 L1949.3 866.6 L1951.8 867.8 L1954.3 868.9 L1956.8 870.1 L1959.3 871.2 L1961.8 872.7 L1964.3 873.2 L1966.8 874.4 L1969.3 875.6 L1972.1 877.2 L1975 877.6 L1977.8 878.1 L1980.7 879.7 L1983.5 880.7 L1986.4 881.5 L1989.2 882 L1991.7 883 L1994.2 883.3 L1996.7 883.8 L1999.2 885.3 L2001.7 885.9 L2004.2 886 L2006.7 887.4 L2009.2 887.2 L2012 888.5 L2014.9 889.2 L2017.7 890.4 L2020.6 891.4 L2023.4 892.9 L2026.3 893.5 L2029.1 894.4 L2031.9 895.7 L2034.8 897.1 L2037.6 898.9 L2040.5 900.2 L2043.3 899.9 L2046.2 903 L2049 903.8 L2051.5 904.9 L2054 906.5 L2056.5 908.3 L2059 910.2 L2061.5 910.6 L2064 912.4 L2066.5 913.2 L2069 915.1 L2071.8 915.6 L2074.7 917 L2077.5 918.6 L2080.4 920.9 L2083.2 919.9 L2086.1 924.5 L2088.9 923.6 L2091.4 926.2 L2093.9 926.1 L2096.4 928.2 L2098.9 927.5 L2101.4 927 L2103.9 927.6 L2106.4 929.4 L2108.9 930.9 L2111.6 932.1 L2114.2 929.2 L2116.8 929.6 L2119.5 930.6 L2120.6 918.3 L2121.6 932.2 L2124.5 933.4 L2126.8 944" fill="none" stroke="#ff8000" stroke-width="2.2" stroke-linejoin="round"/>
<text x="1157.8" y="949.5" text-anchor="end" class="il" textLength="51.5" lengthAdjust="spacingAndGlyphs">0.6</text>
<text x="1157.8" y="808.9" text-anchor="end" class="il" textLength="51.5" lengthAdjust="spacingAndGlyphs">0.8</text>
<text x="1157.8" y="668.3" text-anchor="end" class="il" textLength="50.5" lengthAdjust="spacingAndGlyphs">1.0</text>
<text x="1157.8" y="527.6" text-anchor="end" class="il" textLength="50.5" lengthAdjust="spacingAndGlyphs">1.2</text>
<text x="1157.8" y="387" text-anchor="end" class="il" textLength="50.5" lengthAdjust="spacingAndGlyphs">1.4</text>
<text x="1157.8" y="246.3" text-anchor="end" class="il" textLength="50.5" lengthAdjust="spacingAndGlyphs">1.6</text>
<text x="1157.8" y="105.7" text-anchor="end" class="il" textLength="50.5" lengthAdjust="spacingAndGlyphs">1.8</text>
<text x="1254.9" y="1070" text-anchor="middle" class="il" textLength="59" lengthAdjust="spacingAndGlyphs">500</text>
<text x="1400.2" y="1070" text-anchor="middle" class="il" textLength="62" lengthAdjust="spacingAndGlyphs">600</text>
<text x="1545.6" y="1070" text-anchor="middle" class="il" textLength="62.3" lengthAdjust="spacingAndGlyphs">700</text>
<text x="1691" y="1070" text-anchor="middle" class="il" textLength="63" lengthAdjust="spacingAndGlyphs">800</text>
<text x="1836.3" y="1070" text-anchor="middle" class="il" textLength="62.3" lengthAdjust="spacingAndGlyphs">900</text>
<text x="1981.7" y="1070" text-anchor="middle" class="il" textLength="80.5" lengthAdjust="spacingAndGlyphs">1000</text>
<text x="2127" y="1070" text-anchor="middle" class="il" textLength="77" lengthAdjust="spacingAndGlyphs">1100</text>
</svg>
</body></html>
